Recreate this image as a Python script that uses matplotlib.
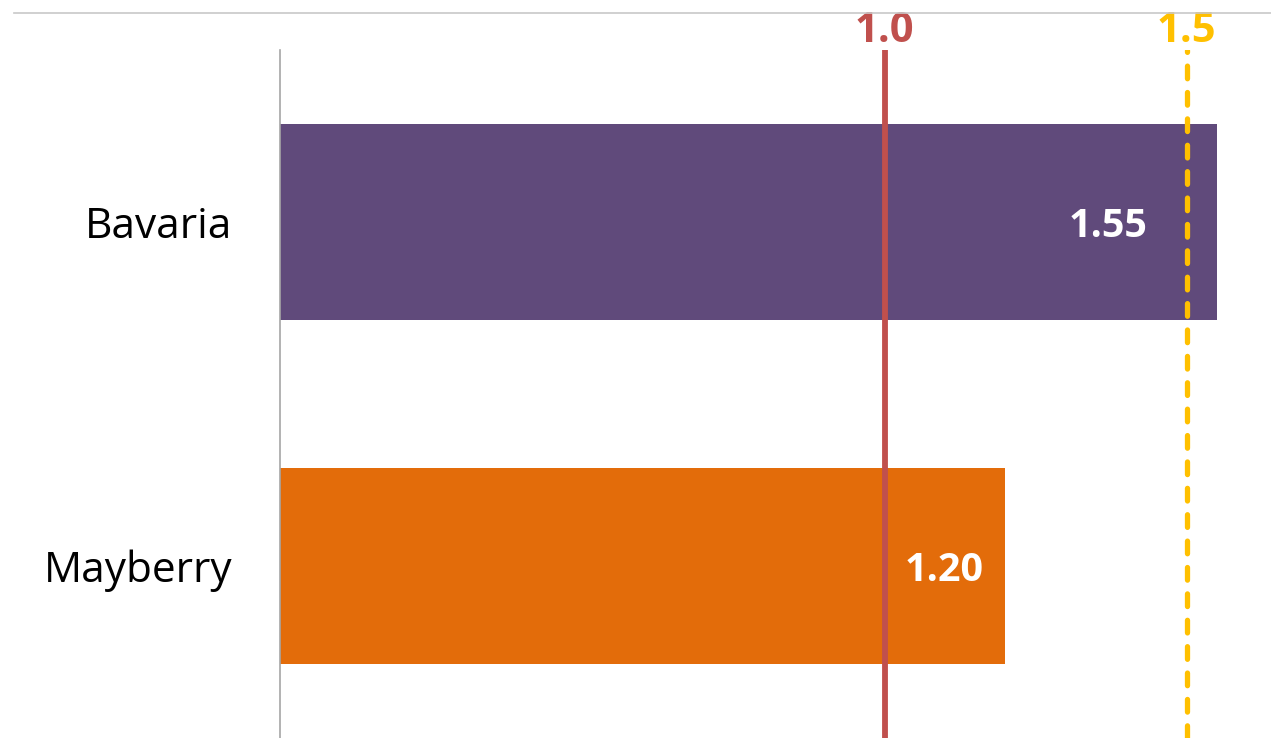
import matplotlib.pyplot as plt
from matplotlib.lines import Line2D

regions = ["Bavaria", "Mayberry"]
ratios = [1.55, 1.20]
bar_colors = ["#604A7B", "#E36C0A"]
label_shift_px = [-69, -22]   # where each value label sits inside its bar

ref_value = 1.0
target_value = 1.5

plt.rcParams["font.family"] = ["Open Sans", "DejaVu Sans"]

fig = plt.figure(figsize=(12.71, 7.38), dpi=100)
ax = fig.add_axes([280 / 1271, 0, 1 - 280 / 1271, 688 / 738])

y = list(range(len(regions)))
ax.barh(y, ratios, height=0.572, color=bar_colors, zorder=1)

for yi, v, dx in zip(y, ratios, label_shift_px):
    ax.annotate(f"{v:.2f}", xy=(v, yi), xytext=(dx * 0.72, 0), textcoords="offset points",
                ha="right", va="center_baseline", color="white", fontsize=28.5,
                fontweight="bold", zorder=4)

# reference and target lines with their labels above the plot
ax.axvline(ref_value, color="#C0504D", lw=4.2, zorder=3)
ax.axvline(target_value, color="#FFC000", lw=3.8, linestyle=(0, (2.4, 2.6)),
           dash_capstyle="round", zorder=3)
ax.text(ref_value, 1.0 + 8 / 688, f"{ref_value:.1f}", transform=ax.get_xaxis_transform(),
        ha="center", va="baseline", color="#C0504D", fontsize=30, fontweight="bold")
ax.text(target_value, 1.0 + 8 / 688, f"{target_value:.1f}", transform=ax.get_xaxis_transform(),
        ha="center", va="baseline", color="#FFC000", fontsize=30, fontweight="bold")

ax.set_xlim(0, 991 / 604.5)
ax.set_ylim(1.5, -0.5)
ax.set_yticks(y)
ax.set_yticklabels(regions, fontsize=30.5)
ax.tick_params(axis="y", length=0, pad=34.5)
ax.set_xticks([])
for side in ["top", "right", "bottom"]:
    ax.spines[side].set_visible(False)
ax.spines["left"].set_color("#A6A6A6")
ax.spines["left"].set_linewidth(1.2)

# thin rule across the top of the figure
fig.add_artist(Line2D([14 / 1271, 1], [1 - 13 / 738, 1 - 13 / 738], color="#C8C8C8", lw=1.2))

fig.savefig("out.png", dpi=100)
